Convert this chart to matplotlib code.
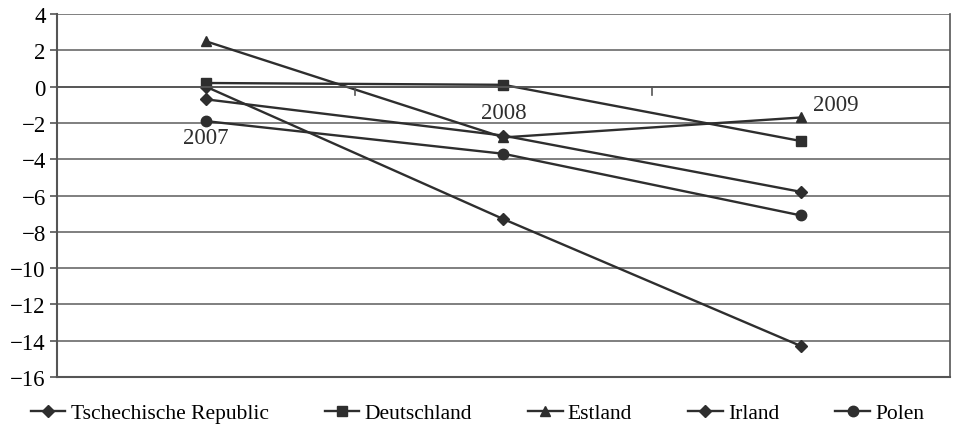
import matplotlib.pyplot as plt

years = ["2007", "2008", "2009"]
series_names = ["Tschechische Republic", "Deutschland", "Estland", "Irland", "Polen"]
cz = [-0.7, -2.7, -5.8]
de = [0.2, 0.1, -3.0]
ee = [2.5, -2.8, -1.7]
ie = [0.0, -7.3, -14.3]
pl = [-1.9, -3.7, -7.1]
markers = ["D", "s", "^", "D", "o"]
yticks = list(range(-16, 5, 2))

plt.rcParams['font.family'] = ['Liberation Serif', 'DejaVu Serif']

fig = plt.figure(figsize=(9.56, 4.27), dpi=100)
ax = fig.add_axes([0.0596, 0.1148, 0.934, 0.850])

x = list(range(len(years)))
ink = "#2e2e2e"
for vals, name, m in zip([cz, de, ee, ie, pl], series_names, markers):
    ms = 6 if m == "D" else 7.5
    ax.plot(x, vals, color=ink, lw=1.7, marker=m, ms=ms, label=name)

ax.set_xlim(-0.5, 2.5)
ax.set_ylim(-16, 4)
ax.set_yticks(yticks)
ax.set_yticklabels([str(t).replace("-", "\u2212") for t in yticks], fontsize=16.5)
ax.yaxis.grid(True, color="#6a6a6a", lw=1.2)
ax.set_axisbelow(True)

# x axis crosses at zero, category dividers as ticks
ax.set_xticks([0.5, 1.5])
ax.set_xticklabels([])
ax.spines["bottom"].set_visible(False)
ax.spines["top"].set_visible(False)
ax.axhline(0, color="#555555", lw=1.3)
for t in [0.5, 1.5]:
    ax.plot([t, t], [0, -0.45], color="#555555", lw=1.2)
ax.tick_params(axis="x", length=0)
ax.tick_params(axis="y", length=5, color="#555555", width=1.2, pad=3)
ax.plot([-0.5, 2.5], [-16, -16], color="#555555", lw=1.5, clip_on=False)
ax.spines["left"].set_color("#555555")
ax.spines["left"].set_linewidth(1.5)
ax.spines["right"].set_color("#555555")
ax.spines["right"].set_linewidth(1.2)

# category labels near the points
ax.text(0, -2.25, years[0], ha="center", va="top", fontsize=16.5, color=ink)
ax.text(1, -2.0, years[1], ha="center", va="bottom", fontsize=16.5, color=ink)
ax.text(2.04, -1.55, years[2], ha="left", va="bottom", fontsize=16.5, color=ink)

ax.legend(loc="center", bbox_to_anchor=(0.471, -0.1), ncol=5,
          frameon=False, fontsize=15.5, handlelength=1.6,
          columnspacing=2.6, handletextpad=0.25, borderaxespad=0)

fig.savefig("out.png", dpi=100)
